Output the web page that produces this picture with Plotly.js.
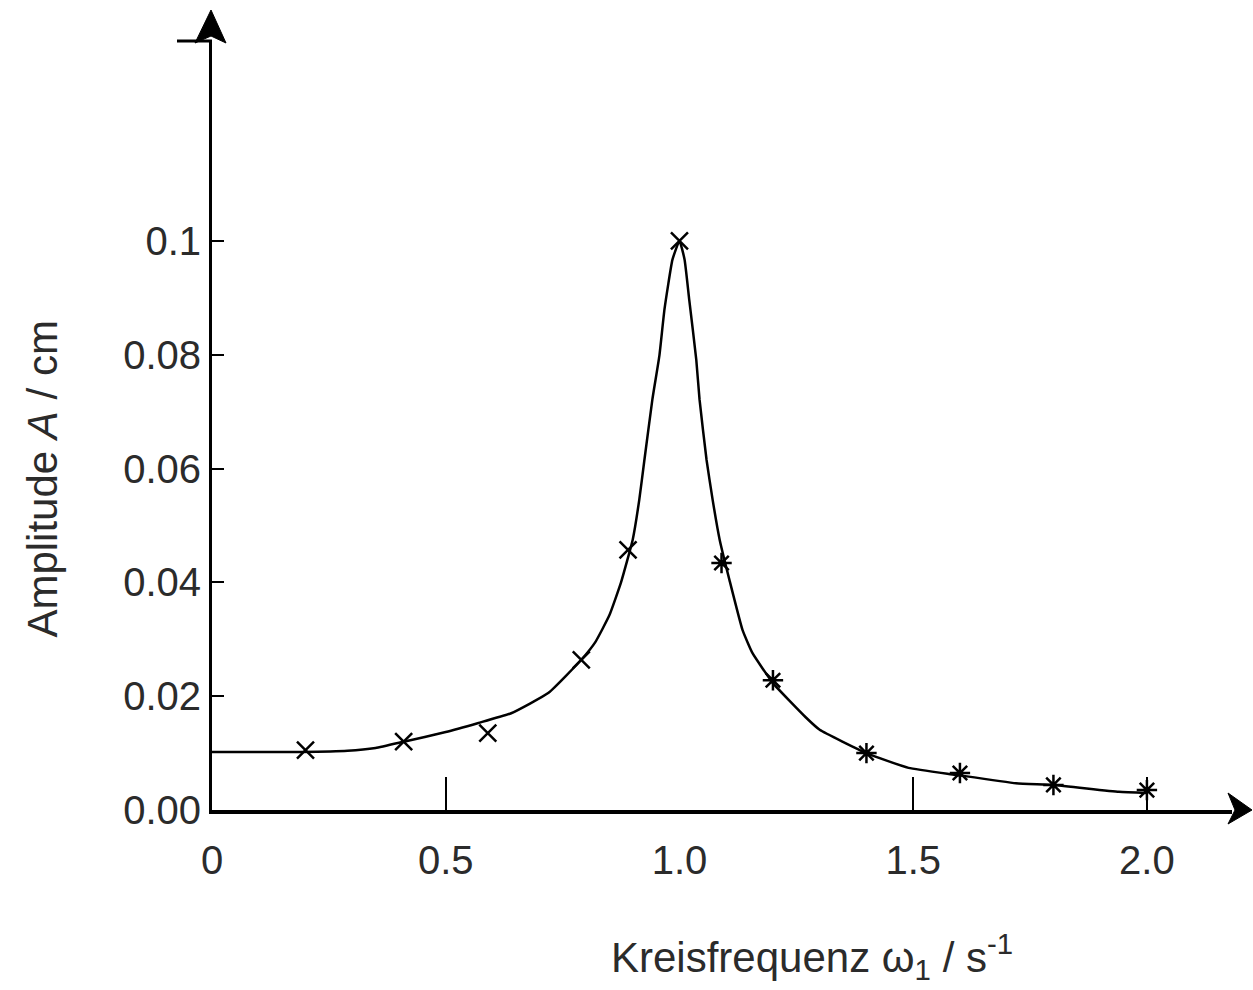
<!DOCTYPE html>
<html>
<head>
<meta charset="utf-8">
<script src="https://cdn.plot.ly/plotly-3.0.1.min.js"></script>
<style>html,body{margin:0;padding:0;background:#fff;}#chart{width:1253px;height:990px;}</style>
</head>
<body>
<div id="chart"></div>
<script>
// Resonance curve
const curveX = [0, 0.19, 0.29, 0.35, 0.41, 0.50, 0.57, 0.64, 0.72, 0.79, 0.82, 0.85, 0.875, 0.90, 0.914, 0.925, 0.942, 0.957, 0.968, 0.985, 1.0, 1.011, 1.021, 1.036, 1.043, 1.058, 1.071, 1.086, 1.107, 1.135, 1.156, 1.2, 1.27, 1.3, 1.4, 1.49, 1.59, 1.72, 1.8, 1.94, 2.0];
const curveY = [0.0102, 0.0102, 0.0104, 0.0109, 0.0120, 0.0137, 0.0153, 0.0170, 0.0206, 0.0264, 0.0295, 0.0342, 0.0400, 0.0475, 0.0545, 0.0615, 0.0721, 0.0798, 0.0880, 0.0967, 0.1, 0.0967, 0.0896, 0.0791, 0.0721, 0.0615, 0.0545, 0.0475, 0.0404, 0.0316, 0.0276, 0.0223, 0.0163, 0.0141, 0.0100, 0.0074, 0.0062, 0.0047, 0.0044, 0.0032, 0.0030];

// Measured points
const markX = [0.2, 0.41, 0.59, 0.79, 0.89, 1.0, 1.09, 1.2, 1.4, 1.6, 1.8, 2.0];
const markY = [0.0105, 0.0120, 0.0135, 0.0264, 0.0457, 0.1, 0.0434, 0.0228, 0.0100, 0.0065, 0.0044, 0.0035];
const markSymbols = ['x-thin-open','x-thin-open','x-thin-open','x-thin-open','x-thin-open','x-thin-open','asterisk-open','asterisk-open','asterisk-open','asterisk-open','asterisk-open','asterisk-open'];

// Axis ticks
const xTickVals = [0, 0.5, 1.0, 1.5, 2.0];
const xTickText = ['0', '0.5', '1.0', '1.5', '2.0'];
const xMarkTicks = [0.5, 1.5, 2.0];
const yTickVals = [0, 0.02, 0.04, 0.06, 0.08, 0.1];
const yTickText = ['0.00', '0.02', '0.04', '0.06', '0.08', '0.1'];

const FONT = 'Liberation Sans, Arial, sans-serif';
const TXT = '#2b2b2b';
const XR = [0, 2.182];
const YR = [0, 0.1353];

const traces = [
  {x: curveX, y: curveY, mode: 'lines', line: {color: '#000', width: 2.5, shape: 'spline', smoothing: 0.4}, hoverinfo: 'skip', showlegend: false},
  {x: markX, y: markY, xaxis: 'x2', mode: 'markers', marker: {symbol: markSymbols, size: 17, color: '#000', line: {color: '#000', width: 2.5}}, showlegend: false}
];

const layout = {
  width: 1253, height: 990,
  margin: {l: 212, r: 21, t: 40, b: 180},
  paper_bgcolor: '#fff', plot_bgcolor: '#fff',
  showlegend: false,
  xaxis: {
    range: XR, showgrid: false, zeroline: false,
    showline: true, linecolor: '#000', linewidth: 4,
    tickmode: 'array', tickvals: xTickVals, ticktext: xTickText,
    ticks: '', ticklabelstandoff: 12,
    tickfont: {family: FONT, size: 40, color: TXT}
  },
  xaxis2: {
    range: XR, overlaying: 'x', anchor: 'y', side: 'bottom',
    showgrid: false, zeroline: false, showline: false,
    tickmode: 'array', tickvals: xMarkTicks, ticks: 'inside', ticklen: 33, tickwidth: 2, tickcolor: '#000',
    showticklabels: false
  },
  yaxis: {
    range: YR, showgrid: false, zeroline: false,
    showline: true, linecolor: '#000', linewidth: 3,
    tickmode: 'array', tickvals: yTickVals, ticktext: yTickText,
    ticks: 'inside', ticklen: 12, tickwidth: 2, tickcolor: '#000',
    ticklabelstandoff: 0,
    tickfont: {family: FONT, size: 40, color: TXT}
  },
  annotations: [
    {xref: 'paper', yref: 'paper', x: 0.588, y: -0.19, xanchor: 'center', yanchor: 'middle', showarrow: false,
     text: 'Kreisfrequenz ω<sub>1</sub> / s<sup>-1</sup>', font: {family: FONT, size: 42, color: TXT}},
    {xref: 'paper', yref: 'paper', x: -0.166, y: 0.43, xanchor: 'center', yanchor: 'middle', showarrow: false, textangle: -90,
     text: 'Amplitude <i>A</i> / cm', font: {family: FONT, size: 42, color: TXT}}
  ],
  shapes: [
    // y-axis arrowhead
    {type: 'path', xref: 'paper', yref: 'paper', xsizemode: 'pixel', ysizemode: 'pixel', xanchor: 0, yanchor: 1,
     path: 'M -17,-3 L -1,30 L 14,-3 L -1,4 Z', fillcolor: '#000', line: {color: '#000', width: 1}},
    // small stub at top of y axis
    {type: 'line', xref: 'paper', yref: 'paper', xsizemode: 'pixel', xanchor: 0, x0: -35, x1: 0, y0: 0.9987, y1: 0.9987,
     line: {color: '#000', width: 3}},
    // x-axis arrowhead
    {type: 'path', xref: 'paper', yref: 'paper', xsizemode: 'pixel', ysizemode: 'pixel', xanchor: 1, yanchor: 0,
     path: 'M -4,17 L 20,0 L -4,-14 L 3,0 Z', fillcolor: '#000', line: {color: '#000', width: 1}}
  ]
};

Plotly.newPlot('chart', traces, layout, {staticPlot: true, displayModeBar: false});
</script>
</body>
</html>
